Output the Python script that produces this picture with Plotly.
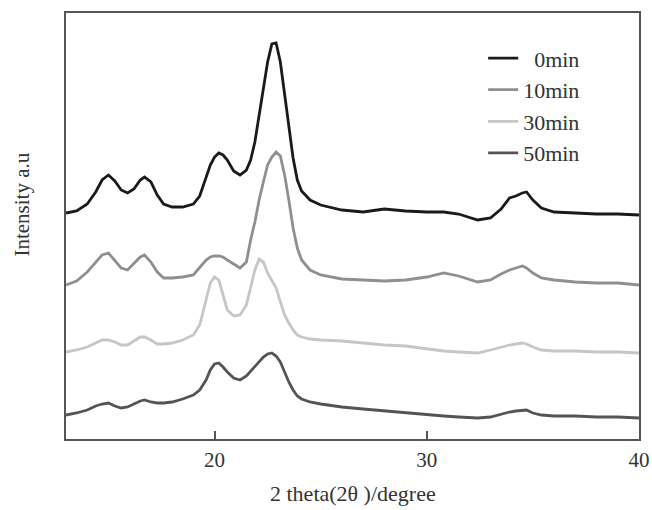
import plotly.graph_objects as go

two_theta = [13.0, 13.5, 14.0, 14.4, 14.7, 15.0, 15.3, 15.6, 15.9, 16.2, 16.5, 16.7, 17.0, 17.3, 17.6,
             18.0, 18.5, 19.0, 19.3, 19.6, 19.8, 20.0, 20.2, 20.4, 20.6, 20.9, 21.2, 21.5, 21.7, 21.9,
             22.1, 22.3, 22.5, 22.7, 22.9, 23.1, 23.3, 23.5, 23.7, 23.9, 24.1, 24.5, 25.0, 26.0, 27.0,
             28.0, 29.0, 30.0, 30.8, 31.5, 32.4, 33.0, 33.5, 33.9, 34.2, 34.5, 34.7, 35.0, 35.4, 36.0,
             37.0, 38.0, 39.0, 40.0]

# intensity (a.u., stacked with offsets as in the figure)
int_0min = [226, 228, 235, 247, 259, 264, 258, 249, 246, 250, 259, 262, 257, 244, 235,
            232, 232, 235, 243, 261, 274, 282, 286, 284, 279, 268, 264, 269, 279, 297,
            324, 351, 377, 395, 396, 377, 346, 317, 281, 259, 248, 239, 234, 229, 227,
            230, 228, 227, 227, 225, 219, 221, 230, 241, 243, 246, 247, 239, 231, 227,
            226, 225, 225, 224]
int_10min = [154, 158, 167, 177, 184, 186, 179, 171, 169, 175, 182, 184, 177, 167, 161,
             161, 162, 164, 171, 179, 182, 183, 183, 182, 179, 175, 171, 177, 199, 217,
             239, 257, 274, 282, 287, 283, 264, 239, 211, 191, 179, 169, 164, 160, 159,
             158, 159, 162, 166, 163, 157, 159, 165, 169, 171, 173, 171, 166, 161, 159,
             157, 156, 156, 154]
int_30min = [87, 89, 92, 96, 99, 99, 97, 94, 94, 98, 102, 102, 99, 95, 95,
             96, 99, 104, 114, 139, 156, 162, 159, 144, 129, 123, 124, 134, 151, 169,
             180, 177, 166, 159, 151, 137, 124, 116, 109, 104, 102, 100, 99, 98, 96,
             94, 93, 90, 88, 87, 86, 89, 92, 94, 95, 96, 95, 92, 89, 88,
             88, 87, 87, 86]
int_50min = [24, 26, 29, 33, 35, 36, 33, 31, 32, 35, 38, 39, 37, 36, 36,
             37, 40, 44, 49, 59, 69, 75, 76, 72, 67, 61, 59, 63, 68, 73,
             78, 82, 85, 86, 83, 77, 67, 57, 49, 43, 40, 37, 35, 32, 30,
             28, 26, 24, 23, 22, 21, 22, 25, 27, 28, 29, 29, 26, 24, 23,
             23, 22, 22, 21]

series_names = ["\u20020min", "10min", "30min", "50min"]
series_values = [int_0min, int_10min, int_30min, int_50min]
series_colors = ["#1a1a1a", "#8f8f8f", "#c6c6c6", "#545454"]

x_ticks = [20, 30, 40]

FONT = "Liberation Serif"
TXT = "#333333"

fig = go.Figure()
for i, (name, vals, col) in enumerate(zip(series_names, series_values, series_colors)):
    fig.add_trace(go.Scatter(x=two_theta, y=vals, mode="lines", name=name,
                             legendgroup=f"g{i}",
                             line=dict(color=col, width=2.8)))

axis_line = "#555555"
fig.update_layout(
    width=652, height=510,
    margin=dict(l=66, r=13, t=13, b=71, autoexpand=False),
    paper_bgcolor="white", plot_bgcolor="white",
    font=dict(family=FONT, size=20, color=TXT),
    showlegend=True,
    legend=dict(x=0.728, y=0.943, xanchor="left", yanchor="top",
                bgcolor="rgba(0,0,0,0)", tracegroupgap=0,
                font=dict(family=FONT, size=22, color=TXT)),
    xaxis=dict(range=[13, 40], tickvals=x_ticks, ticks="inside", ticklen=8,
               tickwidth=1.5, tickcolor=axis_line, showgrid=False, zeroline=False,
               showline=True, linecolor=axis_line, linewidth=2, mirror=True,
               automargin=False,
               tickfont=dict(family=FONT, size=21, color=TXT),
               ticklabelstandoff=1),
    yaxis=dict(range=[0, 426], showticklabels=False, ticks="", showgrid=False,
               zeroline=False, showline=True, linecolor=axis_line, linewidth=2,
               mirror=True, automargin=False),
    annotations=[
        dict(text="2 theta(2\u03b8 )/degree", xref="paper", yref="paper",
             x=0.5, y=-0.127, xanchor="center", yanchor="middle", showarrow=False,
             font=dict(family=FONT, size=22, color=TXT)),
        dict(text="Intensity a.u", xref="paper", yref="paper",
             x=-0.077, y=0.55, xanchor="center", yanchor="middle", showarrow=False,
             textangle=-90, font=dict(family=FONT, size=21, color=TXT)),
    ],
)

fig.write_html("out.html", config={"displayModeBar": False},
               post_script="document.body.style.margin='0';document.body.style.overflow='hidden';")
